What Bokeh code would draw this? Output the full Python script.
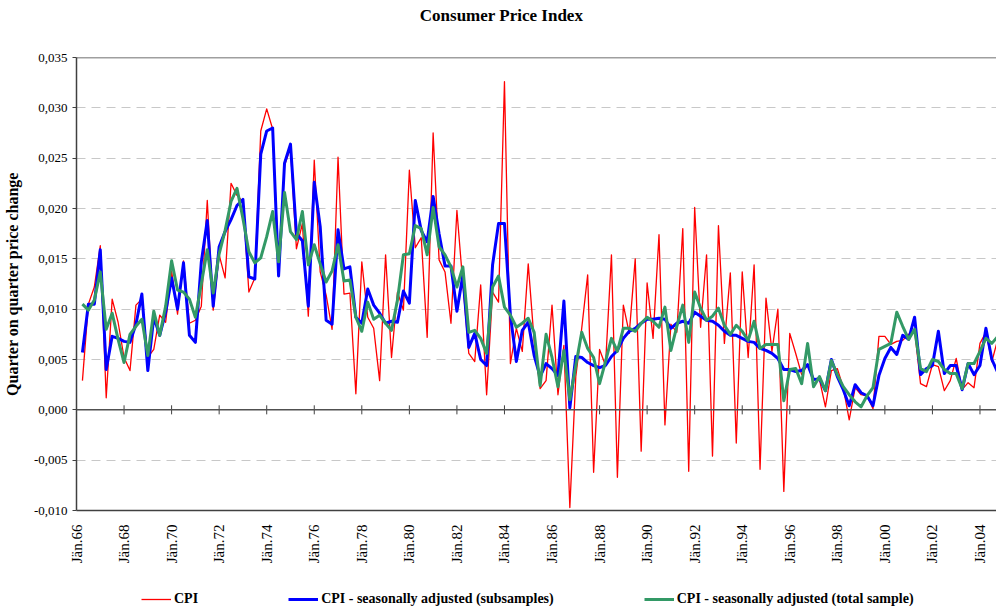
from bokeh.plotting import figure
from bokeh.layouts import column
from bokeh.models import (Range1d, FixedTicker, CustomJSTickFormatter, Span, Legend,
                          LegendItem, ColumnDataSource, Label)
from bokeh.embed import file_html
from bokeh.resources import INLINE

# ---------------- data (quarter-on-quarter change, from 1966 Q2) ----------------
first_quarter = 1966.25
cpi = [0.0029, 0.0105, 0.0122, 0.0163, 0.0012, 0.0110, 0.0087, 0.0052, 0.0039, 0.0104,
       0.0110, 0.0052, 0.0060, 0.0094, 0.0087, 0.0138, 0.0095, 0.0148, 0.0086, 0.0089,
       0.0103, 0.0208, 0.0099, 0.0154, 0.0131, 0.0225, 0.0213, 0.0207, 0.0117, 0.0131,
       0.0277, 0.0299, 0.0279, 0.0144, 0.0243, 0.0260, 0.0160, 0.0185, 0.0093, 0.0248,
       0.0137, 0.0114, 0.0080, 0.0251, 0.0115, 0.0116, 0.0016, 0.0147, 0.0092, 0.0081,
       0.0029, 0.0154, 0.0052, 0.0117, 0.0099, 0.0238, 0.0161, 0.0171, 0.0072, 0.0275,
       0.0149, 0.0137, 0.0086, 0.0198, 0.0125, 0.0056, 0.0048, 0.0124, 0.0015, 0.0117,
       0.0107, 0.0326, 0.0046, 0.0081, 0.0058, 0.0145, 0.0068, 0.0021, 0.0029, 0.0104,
       0.0015, 0.0064, -0.0097, 0.0033, 0.0081, 0.0134, -0.0062, 0.0060, 0.0044, 0.0154,
       -0.0067, 0.0104, 0.0076, 0.0150, -0.0041, 0.0126, 0.0071, 0.0174, -0.0015, 0.0085,
       0.0077, 0.0180, -0.0061, 0.0201, 0.0082, 0.0154, -0.0046, 0.0183, 0.0066, 0.0136,
       -0.0033, 0.0137, 0.0052, 0.0144, -0.0059, 0.0111, 0.0058, 0.0100, -0.0081, 0.0076,
       0.0056, 0.0035, 0.0045, 0.0030, 0.0030, 0.0003, 0.0039, 0.0041, 0.0022, -0.0010,
       0.0022, 0.0015, 0.0014, 0.0001, 0.0073, 0.0073, 0.0065, 0.0068, 0.0069, 0.0075,
       0.0079, 0.0026, 0.0023, 0.0045, 0.0043, 0.0019, 0.0029, 0.0051, 0.0020, 0.0027,
       0.0022, 0.0066, 0.0077, 0.0048, 0.0070]

cpi_sa_subsamples = [
       0.0057, 0.0105, 0.0105, 0.0159, 0.0040, 0.0073, 0.0071, 0.0068, 0.0067, 0.0085,
       0.0115, 0.0039, 0.0092, 0.0074, 0.0097, 0.0131, 0.0100, 0.0146, 0.0074, 0.0067,
       0.0147, 0.0188, 0.0103, 0.0162, 0.0177, 0.0189, 0.0203, 0.0209, 0.0132, 0.0130,
       0.0254, 0.0277, 0.0280, 0.0133, 0.0245, 0.0264, 0.0175, 0.0168, 0.0103, 0.0226,
       0.0182, 0.0089, 0.0085, 0.0179, 0.0140, 0.0142, 0.0092, 0.0086, 0.0120, 0.0104,
       0.0096, 0.0086, 0.0088, 0.0087, 0.0118, 0.0106, 0.0208, 0.0178, 0.0167, 0.0212,
       0.0175, 0.0143, 0.0143, 0.0098, 0.0134, 0.0062, 0.0076, 0.0050, 0.0044, 0.0144,
       0.0185, 0.0185, 0.0094, 0.0048, 0.0079, 0.0087, 0.0054, 0.0033, 0.0046, 0.0041,
       0.0034, 0.0108, 0.0002, 0.0053, 0.0052, 0.0047, 0.0044, 0.0042, 0.0044, 0.0053,
       0.0059, 0.0071, 0.0078, 0.0081, 0.0086, 0.0090, 0.0090, 0.0091, 0.0090, 0.0081,
       0.0086, 0.0088, 0.0086, 0.0097, 0.0093, 0.0089, 0.0088, 0.0084, 0.0078, 0.0074,
       0.0074, 0.0071, 0.0068, 0.0067, 0.0061, 0.0059, 0.0056, 0.0051, 0.0040, 0.0040,
       0.0038, 0.0039, 0.0045, 0.0030, 0.0031, 0.0019, 0.0050, 0.0033, 0.0020, 0.0004,
       0.0025, 0.0017, 0.0014, 0.0004, 0.0034, 0.0051, 0.0062, 0.0055, 0.0074, 0.0070,
       0.0092, 0.0035, 0.0041, 0.0044, 0.0078, 0.0036, 0.0044, 0.0044, 0.0020, 0.0046,
       0.0035, 0.0044, 0.0081, 0.0050, 0.0037]

cpi_sa_total = [
       0.0105, 0.0099, 0.0109, 0.0137, 0.0080, 0.0096, 0.0070, 0.0047, 0.0075, 0.0083,
       0.0090, 0.0054, 0.0098, 0.0074, 0.0103, 0.0148, 0.0119, 0.0117, 0.0110, 0.0092,
       0.0125, 0.0159, 0.0116, 0.0155, 0.0178, 0.0207, 0.0220, 0.0190, 0.0157, 0.0146,
       0.0151, 0.0172, 0.0197, 0.0147, 0.0216, 0.0177, 0.0169, 0.0197, 0.0144, 0.0164,
       0.0145, 0.0127, 0.0138, 0.0164, 0.0128, 0.0129, 0.0092, 0.0078, 0.0107, 0.0090,
       0.0094, 0.0086, 0.0079, 0.0109, 0.0154, 0.0155, 0.0183, 0.0180, 0.0154, 0.0201,
       0.0162, 0.0154, 0.0142, 0.0122, 0.0142, 0.0077, 0.0079, 0.0071, 0.0056, 0.0122,
       0.0133, 0.0102, 0.0094, 0.0082, 0.0086, 0.0091, 0.0077, 0.0024, 0.0075, 0.0052,
       0.0023, 0.0059, 0.0010, 0.0044, 0.0077, 0.0061, 0.0052, 0.0026, 0.0048, 0.0071,
       0.0058, 0.0081, 0.0081, 0.0078, 0.0086, 0.0092, 0.0088, 0.0082, 0.0102, 0.0059,
       0.0083, 0.0104, 0.0067, 0.0117, 0.0101, 0.0089, 0.0093, 0.0101, 0.0084, 0.0075,
       0.0084, 0.0078, 0.0069, 0.0088, 0.0061, 0.0065, 0.0065, 0.0065, 0.0009, 0.0040,
       0.0041, 0.0026, 0.0066, 0.0023, 0.0033, 0.0019, 0.0049, 0.0035, 0.0023, 0.0015,
       0.0008, 0.0003, 0.0014, 0.0022, 0.0060, 0.0063, 0.0066, 0.0097, 0.0083, 0.0070,
       0.0080, 0.0041, 0.0038, 0.0050, 0.0048, 0.0040, 0.0036, 0.0036, 0.0021, 0.0046,
       0.0046, 0.0058, 0.0071, 0.0066, 0.0073]

tick_years = list(range(1966, 2005, 2))
tick_labels = ["Jän.66", "Jän.68", "Jän.70", "Jän.72", "Jän.74", "Jän.76", "Jän.78",
               "Jän.80", "Jän.82", "Jän.84", "Jän.86", "Jän.88", "Jän.90", "Jän.92",
               "Jän.94", "Jän.96", "Jän.98", "Jän.00", "Jän.02", "Jän.04"]
y_ticks = [-0.010, -0.005, 0.0, 0.005, 0.010, 0.015, 0.020, 0.025, 0.030, 0.035]

series_names = ["CPI", "CPI - seasonally adjusted (subsamples)",
                "CPI - seasonally adjusted (total sample)"]
series_cols = ["cpi", "sub", "tot"]
series_colors = ["#FF0000", "#0000FF", "#339966"]
series_widths = [1.3, 3, 3]
title_text = "Consumer Price Index"

SERIF = "Liberation Serif"
W = 996
LEFT = 76

t = [first_quarter + 0.25 * k for k in range(len(cpi))]
src = ColumnDataSource(dict(t=t, cpi=cpi, sub=cpi_sa_subsamples, tot=cpi_sa_total))

# ---------------- title strip ----------------
pt = figure(width=W, height=48, output_backend="svg", toolbar_location=None,
            x_axis_type=None, y_axis_type=None, x_range=Range1d(0, 1), y_range=Range1d(0, 1),
            min_border=0, min_border_left=LEFT, min_border_right=0)
pt.outline_line_color = None
pt.grid.visible = False
pt.add_layout(Label(x=425, y=33, x_units="screen", y_units="screen", text=title_text,
                    text_align="center", text_baseline="alphabetic", text_font=SERIF,
                    text_font_size="17px", text_font_style="bold", text_color="black"))

# ---------------- main chart ----------------
p = figure(width=W, height=520, output_backend="svg", toolbar_location=None,
           x_range=Range1d(start=1966, end=2004.695),
           y_range=Range1d(start=-0.010, end=0.035),
           min_border_left=LEFT, min_border_right=0, min_border_top=9, min_border_bottom=58)
p.outline_line_color = None
p.background_fill_color = "white"
p.border_fill_color = "white"

p.xgrid.visible = False
p.ygrid.ticker = FixedTicker(ticks=y_ticks)
p.ygrid.grid_line_color = "#C8C8C8"
p.ygrid.grid_line_dash = "9 6"
p.ygrid.grid_line_width = 1

p.yaxis.ticker = FixedTicker(ticks=y_ticks)
p.yaxis.formatter = CustomJSTickFormatter(code="return tick.toFixed(3).replace('.', ',');")
p.yaxis.axis_line_color = "#404040"
p.yaxis.axis_line_width = 1.5
p.yaxis.major_tick_in = 0
p.yaxis.major_tick_out = 4
p.yaxis.major_tick_line_color = "#404040"
p.yaxis.minor_tick_line_color = None
p.yaxis.major_label_standoff = 5
p.yaxis.major_label_text_font = SERIF
p.yaxis.major_label_text_font_size = "13px"
p.yaxis.major_label_text_color = "black"
p.yaxis.axis_label = "Quarter on quarter price change"
p.yaxis.axis_label_text_font = SERIF
p.yaxis.axis_label_text_font_size = "16px"
p.yaxis.axis_label_text_font_style = "bold"
p.yaxis.axis_label_text_color = "black"
p.yaxis.axis_label_standoff = 10

p.xaxis.ticker = FixedTicker(ticks=tick_years)
p.xaxis.formatter = CustomJSTickFormatter(
    args=dict(years=tick_years, labels=tick_labels),
    code="const i = years.indexOf(tick); return i >= 0 ? labels[i] : '';")
p.xaxis.major_label_orientation = 1.5707963
p.xaxis.axis_line_color = "#404040"
p.xaxis.axis_line_width = 1.5
p.xaxis.major_tick_line_color = None
p.xaxis.minor_tick_line_color = None
p.xaxis.major_label_standoff = 8
p.xaxis.major_label_text_font = SERIF
p.xaxis.major_label_text_font_size = "15px"
p.xaxis.major_label_text_color = "black"

p.add_layout(Span(location=0.035, dimension="width", line_color="#404040", line_width=1.5))
p.add_layout(Span(location=0.0, dimension="width", line_color="#505050", line_width=1.5))
tick_src = ColumnDataSource(dict(x=tick_years, y0=[-0.00045] * len(tick_years),
                                 y1=[0.00045] * len(tick_years)))
p.segment(x0="x", y0="y0", x1="x", y1="y1", source=tick_src, line_color="#404040", line_width=1)

for col, c, w in zip(series_cols, series_colors, series_widths):
    p.line("t", col, source=src, line_color=c, line_width=w, line_join="round")

# ---------------- legend strip ----------------
# same series drawn into a strip whose ranges leave them out of view; only the legend shows
pl = figure(width=W, height=38, output_backend="svg", toolbar_location=None,
            x_axis_type=None, y_axis_type=None, x_range=Range1d(0, 1), y_range=Range1d(0, 1),
            min_border=0, min_border_left=LEFT, min_border_right=0)
pl.outline_line_color = None
pl.grid.visible = False
items = []
for name, col, c, w in zip(series_names, series_cols, series_colors, series_widths):
    r = pl.line("t", col, source=src, line_color=c, line_width=w)
    items.append(LegendItem(label=name, renderers=[r]))
legend = Legend(items=items, orientation="horizontal", location=(65, -1), spacing=90,
                glyph_width=30, glyph_height=14, label_standoff=3, padding=0, margin=0,
                border_line_color=None, background_fill_alpha=0,
                label_text_font=SERIF, label_text_font_size="14px",
                label_text_font_style="bold", label_text_color="black")
pl.add_layout(legend)

layout = column(pt, p, pl, spacing=0)
open("out.html", "w").write(file_html(layout, INLINE))
